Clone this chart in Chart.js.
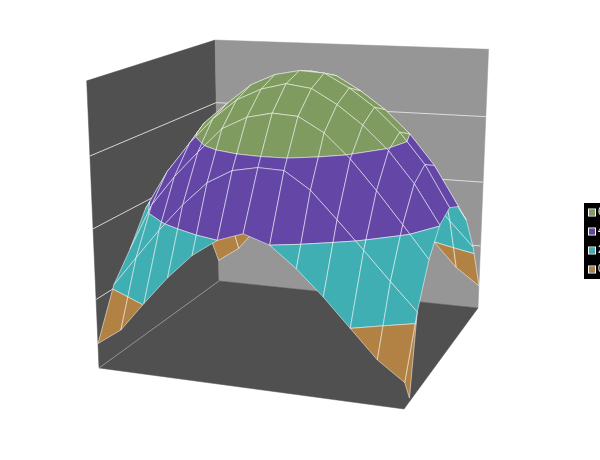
<!DOCTYPE html>
<html>
<head>
<meta charset="utf-8">
<script src="https://cdn.jsdelivr.net/npm/chart.js@4/dist/chart.umd.min.js"></script>
<style>
  body { margin: 0; background: #fff; }
  canvas { display: block; }
</style>
</head>
<body>
<canvas id="grafico" width="600" height="460"></canvas>
<script>
const xPositions = [0, 1/12, 2/12, 3/12, 4/12, 5/12, 6/12, 7/12, 8/12, 9/12, 10/12, 11/12, 1]
const yPositions = [0, 1/8, 2/8, 3/8, 4/8, 5/8, 6/8, 7/8, 1]
const zValues = [
    [72, 120, 204, 284, 352, 400, 424, 400, 344, 276, 200, 124, 72],
    [210, 296, 381, 458, 524, 562, 575, 572, 525, 452, 377, 300, 226],
    [285, 420, 507, 581, 650, 685, 700, 695, 655, 590, 510, 424, 336],
    [378, 493, 581, 654, 711, 744, 762, 752, 712, 660, 595, 510, 402],
    [420, 525, 620, 680, 736, 768, 782, 778, 740, 690, 625, 540, 424],
    [395, 505, 595, 654, 711, 744, 765, 755, 715, 665, 600, 515, 402],
    [336, 420, 520, 581, 640, 676, 695, 685, 645, 590, 520, 440, 336],
    [226, 296, 381, 458, 524, 567, 590, 567, 516, 452, 377, 300, 226],
    [72, 120, 204, 284, 352, 400, 424, 400, 344, 276, 200, 124, 72]
]
// the sharp tip at the front right corner
const frontTip = [[1, 0, 72], [1, 0.06, 10], [1, 1/8, 226]]
const zTicks = [0, 200, 400, 600, 800]
const bandLabels = ['600 - 800', '400 - 600', '200 - 400', '0 - 200']
const bandColors = ['#7f9b5f', '#6346a5', '#3fafb4', '#b18243']

const wallDark = '#505050'
const wallLight = '#969696'
const wireColor = 'rgba(255,255,255,0.75)'
const zMax = zTicks[zTicks.length - 1]

// camera fitted to the corners of the box
const camera = [
    [270.79, 164.19, -17.5, 99],
    [6.37, -30.29, -292, 368],
    [-0.0847, 0.2018, -0.06, 1]
]

const depth = (p) => camera[2][0] * p[0] + camera[2][1] * p[1] + camera[2][2] * p[2] / zMax + camera[2][3]

const project = (p) => {
    const w = depth(p)
    return {
        x: (camera[0][0] * p[0] + camera[0][1] * p[1] + camera[0][2] * p[2] / zMax + camera[0][3]) / w,
        y: (camera[1][0] * p[0] + camera[1][1] * p[1] + camera[1][2] * p[2] / zMax + camera[1][3]) / w
    }
}

// keep the part of a polygon on one side of a height
const cutAt = (poly, level, keepAbove) => {
    const inside = (p) => keepAbove ? p[2] >= level : p[2] <= level
    const out = []
    poly.forEach((p, i) => {
        const q = poly[(i + 1) % poly.length]
        if (inside(p)) out.push(p)
        if (inside(p) !== inside(q)) {
            const t = (level - p[2]) / (q[2] - p[2])
            out.push([p[0] + t * (q[0] - p[0]), p[1] + t * (q[1] - p[1]), level])
        }
    })
    return out
}

const shape = (corners, color, line, width) => {
    const pts = corners.map(project)
    pts.push(pts[0])
    return {
        data: pts,
        showLine: true,
        fill: 'shape',
        tension: 0,
        pointRadius: 0,
        backgroundColor: color,
        borderColor: line,
        borderWidth: width
    }
}

const segment = (a, b, color, width) => ({
    data: [project(a), project(b)],
    showLine: true,
    tension: 0,
    pointRadius: 0,
    borderColor: color,
    borderWidth: width
})

// everything is listed back to front, chart.js wants it the other way round
const layers = []

layers.push(shape([[0, 0, 0], [0, 1, 0], [0, 1, zMax], [0, 0, zMax]], wallDark, wallDark, 0.5))
layers.push(shape([[0, 1, 0], [1, 1, 0], [1, 1, zMax], [0, 1, zMax]], wallLight, wallLight, 0.5))
layers.push(shape([[0, 0, 0], [1, 0, 0], [1, 1, 0], [0, 1, 0]], wallDark, wallDark, 0.5))
layers.push(segment([0, 0, 0], [0, 1, 0], '#a8a8a8', 0.7))

zTicks.slice(1, -1).forEach(tick => {
    layers.push(segment([0, 0, tick], [0, 1, tick], '#e4e4e4', 0.9))
    layers.push(segment([0, 1, tick], [1, 1, tick], '#e4e4e4', 0.9))
})

const addCell = (list, corners) => {
    const middle = [0, 1, 2].map(k => corners.reduce((sum, c) => sum + c[k], 0) / corners.length)
    list.push({ corners, far: depth(middle) })
}

const cells = []
for (let j = 0; j < yPositions.length - 1; j++) {
    for (let i = 0; i < xPositions.length - 1; i++) {
        addCell(cells, [
            [xPositions[i], yPositions[j], zValues[j][i]],
            [xPositions[i + 1], yPositions[j], zValues[j][i + 1]],
            [xPositions[i + 1], yPositions[j + 1], zValues[j + 1][i + 1]],
            [xPositions[i], yPositions[j + 1], zValues[j + 1][i]]
        ])
    }
}
addCell(cells, frontTip)
cells.sort((a, b) => b.far - a.far)

cells.forEach(cell => {
    bandColors.forEach((color, b) => {
        const top = zTicks[zTicks.length - 1 - b]
        const bottom = zTicks[zTicks.length - 2 - b]
        const part = cutAt(cutAt(cell.corners, bottom, true), top, false)
        if (part.length > 2) layers.push(shape(part, color, wireColor, 0.7))
    })
})

const legendBox = {
    id: 'legendBox',
    afterDraw(chart) {
        const ctx = chart.ctx
        ctx.save()
        ctx.fillStyle = '#000'
        ctx.fillRect(584, 203, 16, 76)
        bandLabels.forEach((label, i) => {
            const top = 209.5 + i * 19
            ctx.fillStyle = bandColors[i]
            ctx.strokeStyle = '#fff'
            ctx.lineWidth = 1
            ctx.fillRect(589, top, 6, 6)
            ctx.strokeRect(588.5, top - 0.5, 7, 7)
            ctx.fillStyle = '#fff'
            ctx.font = '10px "Liberation Sans"'
            ctx.textBaseline = 'middle'
            ctx.fillText(label, 598, top + 3)
        })
        ctx.restore()
    }
}

new Chart(document.getElementById('grafico').getContext('2d'), {
    type: 'scatter',
    data: { datasets: layers.reverse() },
    options: {
        responsive: false,
        animation: false,
        layout: { padding: 0 },
        plugins: {
            legend: { display: false },
            tooltip: { enabled: false }
        },
        scales: {
            x: { type: 'linear', min: 0, max: 600, display: false },
            y: { type: 'linear', min: 0, max: 460, reverse: true, display: false }
        }
    },
    plugins: [legendBox]
})
</script>
</body>
</html>
